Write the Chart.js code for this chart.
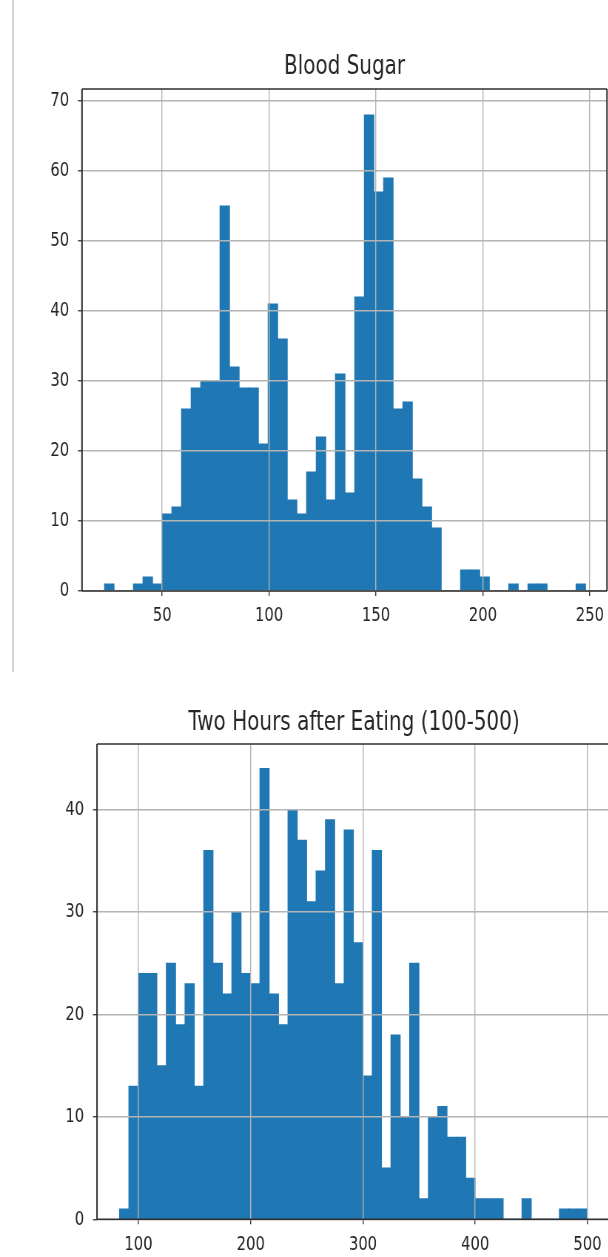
<!DOCTYPE html>
<html>
<head>
<meta charset="utf-8">
<script src="https://cdn.jsdelivr.net/npm/chart.js@4.4.1/dist/chart.umd.min.js"></script>
<style>
  html, body { margin: 0; padding: 0; background: #fff; overflow: hidden; }
  body { width: 608px; height: 1257px; position: relative; }
  .cellbar { position: absolute; left: 12px; top: 0; width: 2px; height: 672px; background: #d4d4d4; }
  .wrap { position: absolute; left: 0; transform-origin: 0 0; }
  #sugarWrap { top: 0; }
  #afterWrap { top: 680px; }
</style>
</head>
<body>
<div class="cellbar"></div>
<div class="wrap" id="sugarWrap"><canvas id="sugar"></canvas></div>
<div class="wrap" id="afterWrap"><canvas id="after"></canvas></div>
<script>
// histogram counts, 50 equal bins each
const sugarRange = [23, 248];
const sugarCounts = [1, 0, 0, 1, 2, 1, 11, 12, 26, 29,
                     30, 30, 55, 32, 29, 29, 21, 41, 36, 13,
                     11, 17, 22, 13, 31, 14, 42, 68, 57, 59,
                     26, 27, 16, 12, 9, 0, 0, 3, 3, 2,
                     0, 0, 1, 0, 1, 1, 0, 0, 0, 1];
const sugarXTicks = [50, 100, 150, 200, 250];
const sugarYTicks = [0, 10, 20, 30, 40, 50, 60, 70];

const afterRange = [83, 500];
const afterCounts = [1, 13, 24, 24, 15, 25, 19, 23, 13, 36,
                     25, 22, 30, 24, 23, 44, 22, 19, 40, 37,
                     31, 34, 39, 23, 38, 27, 14, 36, 5, 18,
                     10, 25, 2, 10, 11, 8, 8, 4, 2, 2,
                     2, 0, 0, 2, 0, 0, 0, 1, 1, 1];
const afterXTicks = [100, 200, 300, 400, 500];
const afterYTicks = [0, 10, 20, 30, 40];

// the picture is squeezed sideways, so draw wide and scale x down
const squeeze = 0.74;
const ink = '#262626';
const barBlue = '#1f77b4';

const spines = {
  id: 'spines',
  afterDraw(chart) {
    const { ctx, chartArea: a } = chart;
    ctx.save();
    ctx.strokeStyle = '#303030';
    ctx.lineWidth = 1.5;
    ctx.beginPath();
    ctx.moveTo(a.left, a.top); ctx.lineTo(a.right, a.top);
    ctx.moveTo(a.left, a.bottom); ctx.lineTo(a.right, a.bottom);
    ctx.stroke();
    ctx.lineWidth = 1.5 / squeeze;
    ctx.beginPath();
    ctx.moveTo(a.left, a.top); ctx.lineTo(a.left, a.bottom);
    ctx.moveTo(a.right, a.top); ctx.lineTo(a.right, a.bottom);
    ctx.stroke();
    ctx.restore();
  }
};

function makeHist(id, o) {
  const canvas = document.getElementById(id);
  canvas.width = o.width;
  canvas.height = o.height;
  canvas.parentNode.style.transform = 'scaleX(' + squeeze + ')';

  const step = (o.range[1] - o.range[0]) / o.counts.length;
  const points = o.counts.map((c, i) => ({ x: o.range[0] + step * (i + 0.5), y: c }));

  const left = o.area.left / squeeze;
  const right = o.area.right / squeeze;

  return new Chart(canvas, {
    type: 'bar',
    data: {
      datasets: [{
        data: points,
        backgroundColor: barBlue,
        borderWidth: 0,
        barPercentage: 1,
        categoryPercentage: 1,
        inflateAmount: 0.5
      }]
    },
    options: {
      responsive: false,
      animation: false,
      devicePixelRatio: 1,
      layout: { padding: { left: 0, top: 0, bottom: 0, right: o.width - right } },
      plugins: {
        legend: { display: false },
        tooltip: { enabled: false },
        title: {
          display: true,
          text: o.title,
          fullSize: false,
          color: ink,
          font: { family: 'DejaVu Sans', size: 27, weight: 'normal', lineHeight: 1.2 },
          padding: { top: o.titleTop, bottom: o.area.top - o.titleTop - 32.4 }
        }
      },
      scales: {
        x: {
          type: 'linear',
          min: o.xMin,
          max: o.xMax,
          offset: false,
          border: { display: false },
          grid: { offset: false, z: 1, color: '#b4b4b4', lineWidth: 1.4,
                  tickColor: '#333', tickLength: 5, tickWidth: 1.4 },
          ticks: { color: ink, padding: 8, maxRotation: 0,
                   font: { family: 'DejaVu Sans', size: 20 } },
          afterBuildTicks: s => { s.ticks = o.xTicks.map(v => ({ value: v })); },
          afterFit: s => {
            s.height = o.height - o.area.bottom;
            s.paddingLeft = 0; s.paddingRight = 0;
          }
        },
        y: {
          min: 0,
          max: o.yMax,
          border: { display: false },
          grid: { z: 1, color: '#b4b4b4', lineWidth: 1.5,
                  tickColor: '#333', tickLength: 5.4, tickWidth: 1.3 },
          ticks: { color: ink, padding: 12,
                   font: { family: 'DejaVu Sans', size: 20 } },
          afterBuildTicks: s => { s.ticks = o.yTicks.map(v => ({ value: v })); },
          afterFit: s => {
            s.width = left;
            s.paddingTop = 0; s.paddingBottom = 0;
          }
        }
      }
    },
    plugins: [spines]
  });
}

makeHist('sugar', {
  title: 'Blood Sugar',
  range: sugarRange, counts: sugarCounts,
  xTicks: sugarXTicks, yTicks: sugarYTicks,
  xMin: 12.5, xMax: 258, yMax: 71.7,
  width: 822, height: 660,
  area: { left: 82, right: 607, top: 89, bottom: 591 },
  titleTop: 50.5
});

makeHist('after', {
  title: 'Two Hours after Eating (100-500)',
  range: afterRange, counts: afterCounts,
  xTicks: afterXTicks, yTicks: afterYTicks,
  xMin: 63, xMax: 521, yMax: 46.4,
  width: 828, height: 577,
  area: { left: 97, right: 611, top: 64, bottom: 539.3 },
  titleTop: 27.1
});
</script>
</body>
</html>
